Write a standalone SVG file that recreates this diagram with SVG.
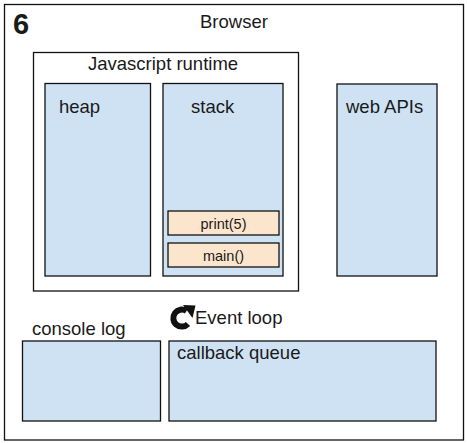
<svg xmlns="http://www.w3.org/2000/svg" width="467" height="443" viewBox="0 0 467 443">
<style>
text{font-family:"Liberation Sans",Arial,sans-serif;fill:#1a1a1a;font-size:18.5px}
.frame{fill:#fff;stroke:#111;stroke-width:1.3}
.blue{fill:#cfe2f3;stroke:#111;stroke-width:1.3}
.orange{fill:#fce5cd;stroke:#111;stroke-width:1.3}
.small{font-size:14.5px}
</style>
<rect width="467" height="443" fill="#fff"/>
<g id="browser">
<rect class="frame" x="4.5" y="4.5" width="459" height="435.5"/>
<text x="13" y="34" style="font-size:29px;font-weight:bold">6</text>
<text x="200" y="28">Browser</text>
</g>
<g id="runtime">
<rect class="frame" x="33.5" y="52.5" width="265" height="238.5"/>
<text x="88" y="70">Javascript runtime</text>
</g>
<g id="heap">
<rect class="blue" x="45" y="83.5" width="105.5" height="192.5"/>
<text x="59" y="113">heap</text>
</g>
<g id="stack">
<rect class="blue" x="163" y="83.5" width="120" height="192.5"/>
<text x="191" y="113">stack</text>
</g>
<g id="print5">
<rect class="orange" x="168" y="211" width="111" height="24"/>
<text class="small" x="223.5" y="228.5" text-anchor="middle">print(5)</text>
</g>
<g id="main">
<rect class="orange" x="168" y="243" width="111" height="24"/>
<text class="small" x="223.5" y="260.5" text-anchor="middle">main()</text>
</g>
<g id="webapis">
<rect class="blue" x="337" y="84" width="100" height="192"/>
<text x="346" y="113">web APIs</text>
</g>
<g id="eventloop">
<path d="M188 324 A8.5 8.5 0 1 1 186.5 311" fill="none" stroke="#111" stroke-width="6"/>
<polygon points="183,305 195.5,305.5 192.5,318" fill="#111"/>
<text x="195" y="324">Event loop</text>
</g>
<g id="consolelog">
<text x="32" y="335">console log</text>
<rect class="blue" x="22.5" y="341" width="138" height="80"/>
</g>
<g id="callbackqueue">
<rect class="blue" x="169" y="341" width="267" height="80"/>
<text x="177" y="359">callback queue</text>
</g>
<g id="connectors"></g>
</svg>
